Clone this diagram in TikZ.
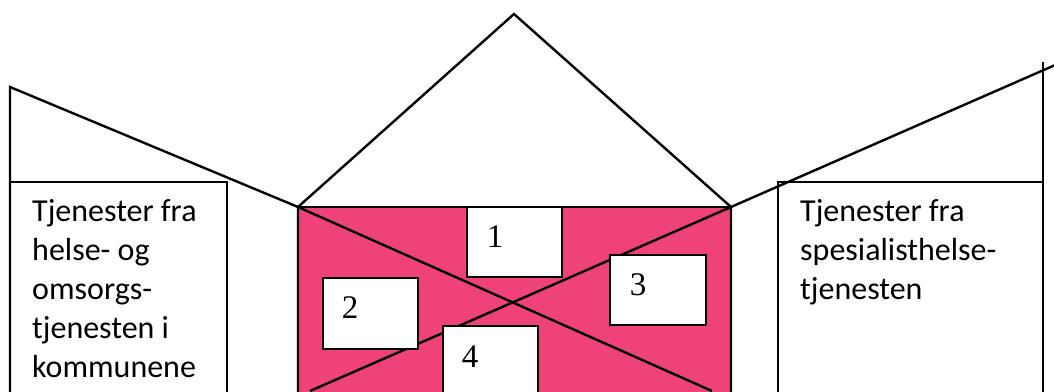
\documentclass[tikz,border=0pt]{standalone}
\usepackage{fontspec}
\setmainfont{Liberation Serif}
\newfontfamily\sidefont{Carlito}
\usepackage{xcolor}
\usepackage{tikz}
\usetikzlibrary{positioning,calc}
\definecolor{housepink}{RGB}{238,66,121}
\tikzset{
  wall/.style    ={line width=2.4pt, line join=miter},
  numbox/.style  ={draw, fill=white, line width=2.4pt},
  numlabel/.style={font=\fontsize{33}{33}\selectfont, inner sep=0pt},
  sidetext/.style={font=\sidefont\fontsize{32}{39}\selectfont, align=left,
                   anchor=north west, inner sep=0pt},
}

\begin{document}
\begin{tikzpicture}[x=1pt,y=-1pt]
  \useasboundingbox (0,0) rectangle (1054,391);
  % house body and roof
  \coordinate (apex)  at (514,14);
  \coordinate (eaveL) at (298,207);
  \coordinate (eaveR) at (731,207);
  \fill[housepink] (eaveL) rectangle (731,400);
  \draw[wall] (10,400)--(10,87)--(eaveL)--(712,391);
  \draw[wall] (1062,62)--(eaveR)--(310,391);
  \draw[wall] (298,400)--(eaveL)--(apex)--(eaveR)--(731,400);
  \draw[wall] (eaveL)--(eaveR);
  % numbered boxes
  \draw[numbox] (467,207) rectangle (562,277);
  \draw[numbox] (323,278) rectangle (418,349);
  \draw[numbox] (610,255) rectangle (706,325);
  \draw[numbox] (443,326) rectangle (538,400);
  \node[numlabel] (n1) at (495,237) {1};
  \node[numlabel] (n2) at (350,308) {2};
  \node[numlabel] (n3) at (638,285) {3};
  \node[numlabel] (n4) at (470,357) {4};
  % side boxes
  \draw[wall] (10,182)--(227,182)--(227,400);
  \draw[wall] (1043,400)--(1043,62);
  \draw[wall] (778,400)--(778,182)--(1043,182);
  \node[sidetext] (kommune) at (32,199)
    {Tjenester fra\\helse- og\\omsorgs-\\tjenesten i\\kommunene};
  \node[sidetext] (spesialist) at (800,199)
    {Tjenester fra\\spesialisthelse-\\tjenesten};
\end{tikzpicture}
\end{document}
